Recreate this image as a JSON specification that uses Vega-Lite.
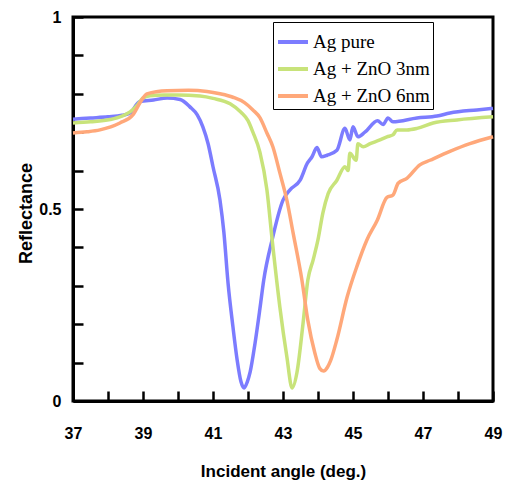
{
  "$schema": "https://vega.github.io/schema/vega-lite/v6.json",
  "width": 420,
  "height": 384,
  "autosize": "none",
  "padding": {"left": 73, "top": 17, "right": 14, "bottom": 80},
  "background": "white",
  "config": {
    "view": {"stroke": "black", "strokeWidth": 3},
    "axis": {"grid": false, "domainColor": "black", "domainWidth": 3, "ticks": true, "tickColor": "black", "tickWidth": 2.5, "tickOpacity": 1,
      "labelFont": "Liberation Sans", "labelFontWeight": "bold", "labelFontSize": 16, "labelColor": "black", "labelFlush": false,
      "titleFont": "Liberation Sans", "titleFontWeight": "bold", "titleColor": "black"}
  },
  "data": {"values": [
    {"a":37.0,"r":0.734,"s":"Ag pure"},{"a":37.5,"r":0.737,"s":"Ag pure"},{"a":38.0,"r":0.740,"s":"Ag pure"},{"a":38.4,"r":0.744,"s":"Ag pure"},{"a":38.63,"r":0.750,"s":"Ag pure"},{"a":38.91,"r":0.780,"s":"Ag pure"},{"a":39.3,"r":0.784,"s":"Ag pure"},{"a":39.69,"r":0.789,"s":"Ag pure"},{"a":40.06,"r":0.785,"s":"Ag pure"},{"a":40.34,"r":0.766,"s":"Ag pure"},{"a":40.55,"r":0.745,"s":"Ag pure"},{"a":40.71,"r":0.714,"s":"Ag pure"},{"a":40.86,"r":0.67,"s":"Ag pure"},{"a":41.0,"r":0.61,"s":"Ag pure"},{"a":41.2,"r":0.523,"s":"Ag pure"},{"a":41.31,"r":0.44,"s":"Ag pure"},{"a":41.43,"r":0.307,"s":"Ag pure"},{"a":41.57,"r":0.193,"s":"Ag pure"},{"a":41.69,"r":0.107,"s":"Ag pure"},{"a":41.8,"r":0.05,"s":"Ag pure"},{"a":41.89,"r":0.034,"s":"Ag pure"},{"a":41.98,"r":0.05,"s":"Ag pure"},{"a":42.06,"r":0.075,"s":"Ag pure"},{"a":42.2,"r":0.15,"s":"Ag pure"},{"a":42.34,"r":0.24,"s":"Ag pure"},{"a":42.45,"r":0.315,"s":"Ag pure"},{"a":42.69,"r":0.42,"s":"Ag pure"},{"a":43.0,"r":0.523,"s":"Ag pure"},{"a":43.2,"r":0.55,"s":"Ag pure"},{"a":43.49,"r":0.575,"s":"Ag pure"},{"a":43.7,"r":0.62,"s":"Ag pure"},{"a":43.83,"r":0.636,"s":"Ag pure"},{"a":43.97,"r":0.66,"s":"Ag pure"},{"a":44.1,"r":0.636,"s":"Ag pure"},{"a":44.26,"r":0.64,"s":"Ag pure"},{"a":44.54,"r":0.653,"s":"Ag pure"},{"a":44.77,"r":0.71,"s":"Ag pure"},{"a":44.91,"r":0.68,"s":"Ag pure"},{"a":45.0,"r":0.714,"s":"Ag pure"},{"a":45.14,"r":0.688,"s":"Ag pure"},{"a":45.34,"r":0.70,"s":"Ag pure"},{"a":45.7,"r":0.73,"s":"Ag pure"},{"a":45.86,"r":0.72,"s":"Ag pure"},{"a":46.0,"r":0.737,"s":"Ag pure"},{"a":46.14,"r":0.727,"s":"Ag pure"},{"a":46.83,"r":0.737,"s":"Ag pure"},{"a":47.4,"r":0.742,"s":"Ag pure"},{"a":47.77,"r":0.75,"s":"Ag pure"},{"a":48.54,"r":0.758,"s":"Ag pure"},{"a":49.0,"r":0.762,"s":"Ag pure"},
    {"a":37.0,"r":0.724,"s":"Ag + ZnO 3nm"},{"a":37.5,"r":0.727,"s":"Ag + ZnO 3nm"},{"a":38.06,"r":0.733,"s":"Ag + ZnO 3nm"},{"a":38.4,"r":0.742,"s":"Ag + ZnO 3nm"},{"a":38.63,"r":0.753,"s":"Ag + ZnO 3nm"},{"a":38.85,"r":0.772,"s":"Ag + ZnO 3nm"},{"a":39.0,"r":0.789,"s":"Ag + ZnO 3nm"},{"a":39.2,"r":0.795,"s":"Ag + ZnO 3nm"},{"a":39.6,"r":0.797,"s":"Ag + ZnO 3nm"},{"a":40.0,"r":0.797,"s":"Ag + ZnO 3nm"},{"a":40.63,"r":0.794,"s":"Ag + ZnO 3nm"},{"a":41.0,"r":0.788,"s":"Ag + ZnO 3nm"},{"a":41.49,"r":0.774,"s":"Ag + ZnO 3nm"},{"a":41.8,"r":0.752,"s":"Ag + ZnO 3nm"},{"a":42.0,"r":0.73,"s":"Ag + ZnO 3nm"},{"a":42.14,"r":0.70,"s":"Ag + ZnO 3nm"},{"a":42.34,"r":0.648,"s":"Ag + ZnO 3nm"},{"a":42.54,"r":0.55,"s":"Ag + ZnO 3nm"},{"a":42.69,"r":0.42,"s":"Ag + ZnO 3nm"},{"a":42.91,"r":0.245,"s":"Ag + ZnO 3nm"},{"a":43.11,"r":0.115,"s":"Ag + ZnO 3nm"},{"a":43.26,"r":0.034,"s":"Ag + ZnO 3nm"},{"a":43.4,"r":0.075,"s":"Ag + ZnO 3nm"},{"a":43.57,"r":0.2,"s":"Ag + ZnO 3nm"},{"a":43.71,"r":0.315,"s":"Ag + ZnO 3nm"},{"a":43.86,"r":0.367,"s":"Ag + ZnO 3nm"},{"a":44.0,"r":0.42,"s":"Ag + ZnO 3nm"},{"a":44.14,"r":0.49,"s":"Ag + ZnO 3nm"},{"a":44.29,"r":0.54,"s":"Ag + ZnO 3nm"},{"a":44.54,"r":0.575,"s":"Ag + ZnO 3nm"},{"a":44.77,"r":0.61,"s":"Ag + ZnO 3nm"},{"a":44.86,"r":0.60,"s":"Ag + ZnO 3nm"},{"a":44.91,"r":0.645,"s":"Ag + ZnO 3nm"},{"a":45.09,"r":0.627,"s":"Ag + ZnO 3nm"},{"a":45.14,"r":0.67,"s":"Ag + ZnO 3nm"},{"a":45.29,"r":0.662,"s":"Ag + ZnO 3nm"},{"a":45.49,"r":0.67,"s":"Ag + ZnO 3nm"},{"a":45.77,"r":0.68,"s":"Ag + ZnO 3nm"},{"a":45.97,"r":0.688,"s":"Ag + ZnO 3nm"},{"a":46.14,"r":0.693,"s":"Ag + ZnO 3nm"},{"a":46.26,"r":0.706,"s":"Ag + ZnO 3nm"},{"a":46.54,"r":0.706,"s":"Ag + ZnO 3nm"},{"a":46.83,"r":0.71,"s":"Ag + ZnO 3nm"},{"a":47.29,"r":0.724,"s":"Ag + ZnO 3nm"},{"a":47.97,"r":0.732,"s":"Ag + ZnO 3nm"},{"a":49.0,"r":0.74,"s":"Ag + ZnO 3nm"},
    {"a":37.0,"r":0.698,"s":"Ag + ZnO 6nm"},{"a":37.4,"r":0.701,"s":"Ag + ZnO 6nm"},{"a":37.77,"r":0.706,"s":"Ag + ZnO 6nm"},{"a":38.34,"r":0.724,"s":"Ag + ZnO 6nm"},{"a":38.71,"r":0.745,"s":"Ag + ZnO 6nm"},{"a":38.91,"r":0.776,"s":"Ag + ZnO 6nm"},{"a":39.11,"r":0.800,"s":"Ag + ZnO 6nm"},{"a":39.69,"r":0.808,"s":"Ag + ZnO 6nm"},{"a":40.3,"r":0.809,"s":"Ag + ZnO 6nm"},{"a":40.83,"r":0.806,"s":"Ag + ZnO 6nm"},{"a":41.2,"r":0.800,"s":"Ag + ZnO 6nm"},{"a":41.57,"r":0.791,"s":"Ag + ZnO 6nm"},{"a":41.9,"r":0.777,"s":"Ag + ZnO 6nm"},{"a":42.14,"r":0.758,"s":"Ag + ZnO 6nm"},{"a":42.34,"r":0.738,"s":"Ag + ZnO 6nm"},{"a":42.54,"r":0.698,"s":"Ag + ZnO 6nm"},{"a":42.71,"r":0.662,"s":"Ag + ZnO 6nm"},{"a":42.91,"r":0.594,"s":"Ag + ZnO 6nm"},{"a":43.11,"r":0.523,"s":"Ag + ZnO 6nm"},{"a":43.29,"r":0.437,"s":"Ag + ZnO 6nm"},{"a":43.54,"r":0.315,"s":"Ag + ZnO 6nm"},{"a":43.71,"r":0.21,"s":"Ag + ZnO 6nm"},{"a":43.91,"r":0.125,"s":"Ag + ZnO 6nm"},{"a":44.05,"r":0.085,"s":"Ag + ZnO 6nm"},{"a":44.16,"r":0.078,"s":"Ag + ZnO 6nm"},{"a":44.27,"r":0.088,"s":"Ag + ZnO 6nm"},{"a":44.36,"r":0.105,"s":"Ag + ZnO 6nm"},{"a":44.54,"r":0.16,"s":"Ag + ZnO 6nm"},{"a":44.83,"r":0.27,"s":"Ag + ZnO 6nm"},{"a":45.11,"r":0.35,"s":"Ag + ZnO 6nm"},{"a":45.4,"r":0.42,"s":"Ag + ZnO 6nm"},{"a":45.69,"r":0.47,"s":"Ag + ZnO 6nm"},{"a":45.97,"r":0.53,"s":"Ag + ZnO 6nm"},{"a":46.14,"r":0.536,"s":"Ag + ZnO 6nm"},{"a":46.29,"r":0.567,"s":"Ag + ZnO 6nm"},{"a":46.54,"r":0.58,"s":"Ag + ZnO 6nm"},{"a":46.91,"r":0.615,"s":"Ag + ZnO 6nm"},{"a":47.2,"r":0.627,"s":"Ag + ZnO 6nm"},{"a":47.77,"r":0.65,"s":"Ag + ZnO 6nm"},{"a":48.34,"r":0.67,"s":"Ag + ZnO 6nm"},{"a":49.0,"r":0.688,"s":"Ag + ZnO 6nm"}
  ]},
  "mark": {"type": "line", "strokeWidth": 3.5, "interpolate": "monotone"},
  "encoding": {
    "x": {"field": "a", "type": "quantitative", "scale": {"domain": [37, 49], "nice": false},
      "axis": {"values": [37,38,39,40,41,42,43,44,45,46,47,48,49], "tickSize": -10, "labelPadding": 34,
        "labelExpr": "datum.value % 2 == 1 ? datum.value + '' : ''",
        "title": "Incident angle (deg.)", "titleFontSize": 17, "titleX": 210, "titleY": 75, "titleBaseline": "alphabetic"}},
    "y": {"field": "r", "type": "quantitative", "scale": {"domain": [0, 1], "nice": false},
      "axis": {"values": [0,0.1,0.2,0.3,0.4,0.5,0.6,0.7,0.8,0.9,1], "tickSize": -10, "labelPadding": 22,
        "labelExpr": "(datum.value == 0 || datum.value == 0.5 || datum.value == 1) ? datum.value + '' : ''",
        "title": "Reflectance", "titleFontSize": 18, "titleX": -42, "titleY": 196, "titleBaseline": "alphabetic"}},
    "color": {"field": "s", "type": "nominal", "sort": ["Ag pure", "Ag + ZnO 3nm", "Ag + ZnO 6nm"],
      "scale": {"domain": ["Ag pure", "Ag + ZnO 3nm", "Ag + ZnO 6nm"], "range": ["#7C7CFF", "#C8E37A", "#FFA87A"]},
      "legend": {"title": null, "orient": "none", "legendX": 200, "legendY": 5, "strokeColor": "black",
        "fillColor": "white", "padding": 3, "symbolType": "stroke", "symbolSize": 900, "symbolStrokeWidth": 4,
        "labelFont": "Liberation Serif", "labelFontSize": 19, "labelColor": "black", "rowPadding": 0, "labelOffset": 3, "labelLimit": 300}}
  }
}
